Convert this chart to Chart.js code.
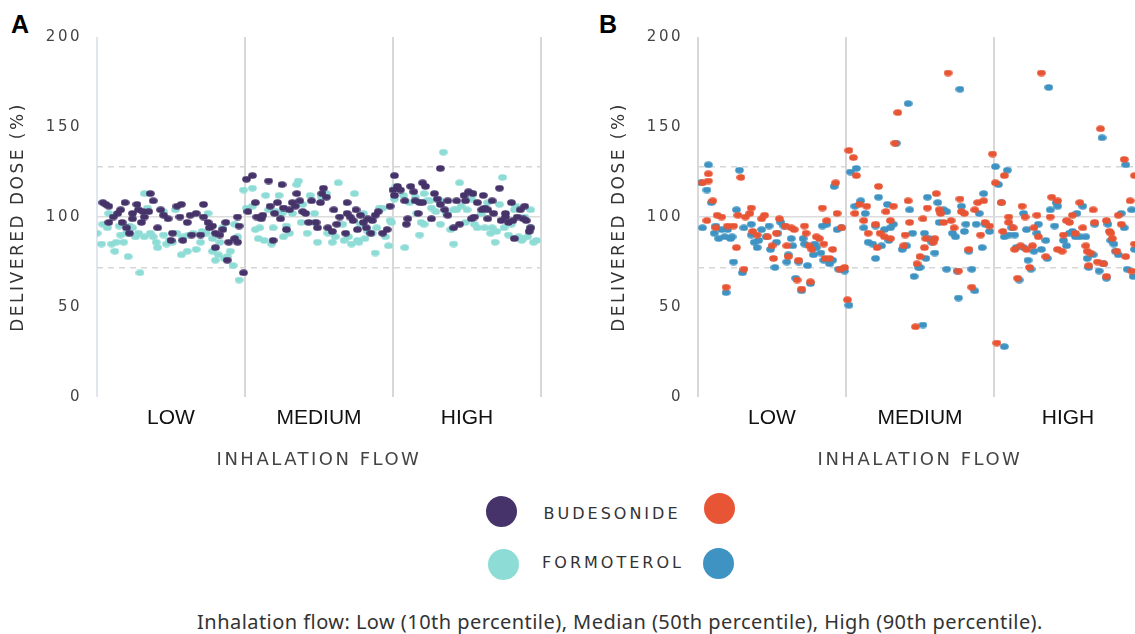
<!DOCTYPE html>
<html>
<head>
<meta charset="utf-8">
<script src="https://cdn.jsdelivr.net/npm/chart.js@4.4.1/dist/chart.umd.min.js"></script>
<style>
body { margin: 0; width: 1135px; height: 634px; overflow: hidden; position: relative; background: #fff; }
.box { position: absolute; top: 0; width: 556px; height: 480px; }
.txt { position: absolute; transform: translate(-50%, -50%); white-space: nowrap; line-height: 1; }
.panel { position: absolute; font: bold 25px "Liberation Sans", Arial, sans-serif; line-height: 25px; color: #000; }
.leg { font: 16px "DejaVu Sans", sans-serif; letter-spacing: 3px; color: #333; }
.dot { position: absolute; width: 31px; height: 31px; border-radius: 50%; }
</style>
</head>
<body>
<div class="panel" style="left:11px; top:12px">A</div>
<div class="panel" style="left:599px; top:12px">B</div>
<div class="box" style="left:0"><canvas id="chartA" width="556" height="480"></canvas></div>
<div class="box" style="left:601px"><canvas id="chartB" width="556" height="480"></canvas></div>

<div class="dot" style="left:486px; top:496px; background:#45336a"></div>
<div class="dot" style="left:704px; top:493px; background:#e85535"></div>
<div class="dot" style="left:488px; top:549px; background:#8edcd6"></div>
<div class="dot" style="left:703px; top:548px; background:#3e93c2"></div>
<div class="txt leg" style="left:612px; top:513px">BUDESONIDE</div>
<div class="txt leg" style="left:613px; top:562px">FORMOTEROL</div>
<div class="txt" style="left:620px; top:621px; font:20px 'Noto Sans', sans-serif; letter-spacing:0.45px; color:#333">Inhalation flow: Low (10th percentile), Median (50th percentile), High (90th percentile).</div>

<script>
// flow levels and y axis labels
const flowLevels = ["LOW", "MEDIUM", "HIGH"];
const yTicks = [0, 50, 100, 150, 200];
const refLines = [72, 128];

// [position inside the flow band (0-1), delivered dose %]
// panel A - budesonide
const budA_low = [[.04,108],[.06,107],[.08,106],[.08,97],[.11,100],[.14,102],[.16,104],[.17,97],[.19,108],[.2,94],[.22,91],[.24,99],[.24,102],[.27,107],[.28,104],[.3,97],[.31,103],[.32,100],[.36,113],[.38,109],[.35,103],[.41,94],[.43,104],[.45,101],[.48,99],[.5,87],[.51,91],[.54,106],[.57,107],[.56,100],[.58,87],[.61,97],[.63,101],[.64,90],[.67,102],[.7,90],[.72,107],[.72,100],[.75,97],[.76,94],[.78,95],[.8,91],[.8,83],[.83,90],[.85,93],[.87,97],[.88,76],[.89,86],[.93,88],[.95,86],[.95,100],[.96,95],[.99,69]];
const budA_medium = [[.01,121],[.05,123],[.02,103],[.07,108],[.08,100],[.11,99],[.12,101],[.16,120],[.17,106],[.19,87],[.2,102],[.22,108],[.24,99],[.25,118],[.26,105],[.28,93],[.3,104],[.32,108],[.34,106],[.35,113],[.37,109],[.39,103],[.41,102],[.43,97],[.45,109],[.48,97],[.49,94],[.51,108],[.53,116],[.52,113],[.55,111],[.56,94],[.59,92],[.6,104],[.62,96],[.64,100],[.68,91],[.69,102],[.69,108],[.71,100],[.73,98],[.75,104],[.76,93],[.78,101],[.8,97],[.82,94],[.83,99],[.85,91],[.86,98],[.88,101],[.9,103],[.93,91],[.96,93],[.98,106]];
const budA_high = [[.01,123],[.0,115],[.01,112],[.03,117],[.05,115],[.08,109],[.09,96],[.1,99],[.12,117],[.14,114],[.15,109],[.17,102],[.18,108],[.2,108],[.2,119],[.22,117],[.26,99],[.28,113],[.3,110],[.32,107],[.32,127],[.35,104],[.37,101],[.37,109],[.41,94],[.43,109],[.45,96],[.48,112],[.49,109],[.51,114],[.53,99],[.54,113],[.55,100],[.57,108],[.6,104],[.61,112],[.62,105],[.64,99],[.64,104],[.67,109],[.68,102],[.72,116],[.73,98],[.76,100],[.76,102],[.78,97],[.8,108],[.81,98],[.82,88],[.84,100],[.86,104],[.88,99],[.89,106],[.9,98],[.92,92],[.93,94]];
// panel A - formoterol
const forA_low = [[.0,91],[.03,85],[.04,96],[.07,94],[.08,102],[.1,85],[.12,81],[.13,86],[.15,95],[.16,90],[.18,86],[.2,91],[.21,78],[.22,95],[.24,94],[.26,89],[.28,91],[.29,69],[.32,89],[.32,113],[.34,105],[.36,91],[.38,89],[.4,86],[.41,83],[.45,103],[.45,90],[.47,85],[.49,87],[.51,86],[.53,104],[.54,91],[.57,79],[.58,89],[.61,81],[.62,90],[.65,91],[.67,82],[.7,86],[.71,92],[.72,91],[.75,102],[.74,91],[.78,81],[.78,88],[.8,76],[.82,79],[.83,86],[.85,94],[.86,77],[.88,78],[.9,81],[.92,73],[.93,96],[.95,89],[.96,65],[.99,115]];
const forA_medium = [[.01,105],[.05,116],[.05,106],[.07,93],[.09,88],[.1,94],[.13,87],[.14,112],[.16,104],[.18,85],[.19,94],[.21,103],[.23,112],[.25,102],[.26,89],[.28,95],[.3,91],[.32,102],[.35,118],[.36,120],[.38,97],[.39,107],[.42,91],[.44,112],[.47,97],[.47,102],[.49,86],[.52,111],[.55,113],[.56,91],[.59,86],[.61,89],[.63,119],[.66,96],[.67,87],[.7,89],[.72,85],[.74,113],[.76,87],[.77,86],[.78,96],[.8,102],[.81,88],[.83,92],[.86,91],[.88,80],[.89,94],[.91,105],[.93,105],[.95,89],[.97,84],[.98,98],[.99,97]];
const forA_high = [[.02,117],[.03,116],[.01,110],[.07,112],[.08,83],[.11,108],[.15,111],[.16,102],[.18,90],[.19,97],[.21,96],[.21,113],[.23,109],[.25,109],[.26,105],[.29,103],[.32,109],[.32,96],[.34,136],[.36,102],[.39,93],[.41,104],[.41,85],[.43,104],[.45,119],[.46,106],[.49,97],[.5,104],[.53,110],[.54,113],[.55,96],[.57,94],[.6,102],[.62,94],[.64,108],[.66,91],[.67,94],[.69,86],[.7,92],[.72,107],[.74,122],[.75,94],[.78,90],[.8,96],[.82,104],[.83,106],[.85,89],[.87,87],[.88,88],[.89,100],[.91,89],[.93,104],[.93,94],[.95,86],[.97,87]];

// panel B - budesonide
const budB_low = [[.03,119],[.07,120],[.07,124],[.06,98],[.1,109],[.12,94],[.13,101],[.16,100],[.19,61],[.2,95],[.24,95],[.26,83],[.27,101],[.29,122],[.31,71],[.32,100],[.35,102],[.36,105],[.37,92],[.4,90],[.43,99],[.45,101],[.47,89],[.5,84],[.51,77],[.53,91],[.55,99],[.59,95],[.6,84],[.61,78],[.63,94],[.65,93],[.67,65],[.68,76],[.7,60],[.72,95],[.73,91],[.75,84],[.76,64],[.77,82],[.8,89],[.82,88],[.84,105],[.85,85],[.86,77],[.87,98],[.89,77],[.91,82],[.93,119],[.94,102],[.96,71],[.97,94],[.99,72]];
const budB_medium = [[.01,54],[.02,137],[.05,133],[.07,123],[.06,102],[.09,107],[.12,98],[.14,106],[.15,91],[.2,96],[.22,117],[.21,83],[.23,91],[.26,89],[.27,103],[.3,88],[.3,98],[.32,106],[.35,158],[.33,141],[.39,84],[.4,90],[.42,109],[.43,97],[.47,39],[.48,74],[.5,78],[.52,99],[.53,83],[.54,88],[.55,105],[.59,86],[.6,88],[.61,113],[.63,104],[.64,102],[.66,97],[.69,180],[.71,98],[.73,94],[.76,70],[.77,110],[.78,103],[.8,102],[.83,82],[.85,61],[.87,104],[.89,108],[.91,90],[.93,109],[.94,97],[.97,95],[.99,135]];
const budB_high = [[.01,119],[.02,30],[.05,108],[.07,123],[.06,92],[.1,100],[.1,97],[.13,94],[.14,82],[.16,66],[.18,84],[.19,106],[.21,100],[.22,82],[.24,72],[.26,84],[.27,94],[.29,101],[.3,89],[.32,180],[.35,78],[.38,100],[.39,111],[.43,109],[.43,82],[.46,81],[.47,90],[.49,98],[.51,97],[.53,101],[.55,91],[.58,108],[.6,94],[.62,84],[.63,81],[.64,73],[.65,80],[.67,104],[.68,97],[.7,75],[.72,149],[.74,74],[.76,67],[.76,98],[.78,92],[.79,91],[.8,88],[.83,81],[.84,101],[.86,96],[.88,132],[.89,78],[.92,109],[.93,70],[.95,85],[.95,123]];
// panel B - formoterol
const forB_low = [[.02,119],[.03,94],[.06,115],[.07,129],[.09,108],[.11,91],[.12,95],[.14,88],[.16,93],[.18,89],[.19,58],[.2,93],[.22,88],[.23,89],[.24,75],[.26,104],[.28,126],[.3,69],[.31,94],[.36,96],[.36,90],[.38,86],[.4,83],[.41,87],[.43,93],[.46,89],[.48,95],[.49,82],[.52,72],[.53,86],[.54,91],[.56,97],[.58,95],[.6,75],[.61,79],[.63,88],[.64,84],[.66,66],[.68,75],[.7,59],[.71,88],[.72,85],[.74,73],[.76,63],[.78,79],[.79,85],[.8,83],[.83,80],[.84,95],[.85,76],[.87,96],[.89,74],[.91,76],[.92,117],[.94,93],[.95,71],[.97,94],[.99,70]];
const forB_medium = [[.02,51],[.03,125],[.07,127],[.06,106],[.1,109],[.12,94],[.13,102],[.15,86],[.18,85],[.2,95],[.2,77],[.22,111],[.24,84],[.26,93],[.28,107],[.29,87],[.3,94],[.32,96],[.34,141],[.38,82],[.41,84],[.42,163],[.43,104],[.45,91],[.46,67],[.49,72],[.5,72],[.52,40],[.53,91],[.54,77],[.55,111],[.56,88],[.58,86],[.6,80],[.62,108],[.63,97],[.66,104],[.68,103],[.68,71],[.72,91],[.74,89],[.75,70],[.76,55],[.77,171],[.78,106],[.8,92],[.81,96],[.83,81],[.85,71],[.87,59],[.88,96],[.9,102],[.92,83],[.93,113],[.94,96],[.97,92]];
const forB_high = [[.01,128],[.03,118],[.05,108],[.07,28],[.09,126],[.07,89],[.1,90],[.12,94],[.14,90],[.15,83],[.17,65],[.2,83],[.2,102],[.22,93],[.23,76],[.25,71],[.27,81],[.29,91],[.3,96],[.32,82],[.35,87],[.36,77],[.37,172],[.38,104],[.41,95],[.42,108],[.43,106],[.47,87],[.49,84],[.51,91],[.53,92],[.55,89],[.56,102],[.58,89],[.6,106],[.62,89],[.63,77],[.64,72],[.67,79],[.68,96],[.71,70],[.73,144],[.74,74],[.76,66],[.77,96],[.79,87],[.81,85],[.82,81],[.84,79],[.86,102],[.88,94],[.89,129],[.9,71],[.93,104],[.94,67],[.95,82]];

// small oval marker like the original dots
function dot(color) {
  const c = document.createElement("canvas");
  c.width = 9; c.height = 7;
  const g = c.getContext("2d");
  g.fillStyle = color;
  g.beginPath();
  g.ellipse(4.5, 3.5, 4.3, 3.3, 0, 0, Math.PI * 2);
  g.fill();
  return c;
}

function toPoints(groups) {
  return groups.flatMap((g, i) => g.map(p => ({ x: i + p[0], y: p[1] })));
}

// spaced lettering for titles and numbers; the flow labels (drawn after the dots) stay plain
const spacing = {
  id: "spacing",
  beforeDraw(chart) { chart.ctx.letterSpacing = "2.5px"; },
  afterDatasetsDraw(chart) { chart.ctx.letterSpacing = "0px"; }
};

function makeChart(id, bud, form, budColor, formColor, axisColor) {
  new Chart(document.getElementById(id), {
    type: "scatter",
    data: {
      datasets: [
        { label: "BUDESONIDE", data: toPoints(bud), pointStyle: dot(budColor), pointRadius: 4 },
        { label: "FORMOTEROL", data: toPoints(form), pointStyle: dot(formColor), pointRadius: 4 }
      ]
    },
    options: {
      responsive: false,
      animation: false,
      events: [],
      layout: { padding: { top: 37, right: 15, left: 0, bottom: 0 } },
      plugins: { legend: { display: false }, tooltip: { enabled: false } },
      scales: {
        x: {
          type: "linear", min: 0, max: 3,
          ticks: { display: false, stepSize: 1 },
          grid: { drawTicks: false, lineWidth: 2, color: c => c.tick && c.tick.value === 0 ? axisColor : "#d8d8d8" },
          border: { display: false },
          afterFit: s => { s.height = 0; }
        },
        x2: {
          type: "linear", position: "bottom", min: 0, max: 3,
          afterBuildTicks: s => { s.ticks = flowLevels.map((_, i) => ({ value: i + 0.5 })); },
          ticks: {
            z: 1, autoSkip: false, maxRotation: 0, padding: 9, color: "#111",
            font: { family: "Liberation Sans", size: 21 },
            callback: (v, i) => flowLevels[i]
          },
          grid: { display: false, drawTicks: false },
          border: { display: false },
          title: {
            display: true, text: "INHALATION FLOW", color: "#444",
            font: { family: "DejaVu Sans", size: 18 },
            padding: { top: 0, bottom: 9 }
          },
          afterFit: s => { s.height = 83; }
        },
        y: {
          min: 0, max: 200,
          afterBuildTicks: s => { s.ticks = yTicks.concat(refLines).sort((a, b) => a - b).map(v => ({ value: v })); },
          ticks: {
            autoSkip: false, padding: 15, color: "#444",
            font: { family: "DejaVu Sans", size: 15 },
            callback: v => yTicks.includes(v) ? v : ""
          },
          grid: {
            drawTicks: false, lineWidth: 1.5,
            color: c => {
              if (!c.tick) return "transparent";
              if (c.tick.value === 100) return "#dcdcdc";
              return refLines.includes(c.tick.value) ? "#d6d6d6" : "transparent";
            }
          },
          border: { display: false, dash: c => c.tick && refLines.includes(c.tick.value) ? [6, 5] : [] },
          title: {
            display: true, text: "DELIVERED DOSE (%)", color: "#333",
            font: { family: "DejaVu Sans", size: 17 },
            padding: { top: 8, bottom: 0 }
          },
          afterFit: s => { s.width = 97; }
        }
      }
    },
    plugins: [spacing]
  });
}

makeChart("chartA", [budA_low, budA_medium, budA_high], [forA_low, forA_medium, forA_high], "#45336a", "#8edcd6", "#dfe6f0");
makeChart("chartB", [budB_low, budB_medium, budB_high], [forB_low, forB_medium, forB_high], "#e85535", "#3e93c2", "#d8d8d8");
</script>
</body>
</html>
